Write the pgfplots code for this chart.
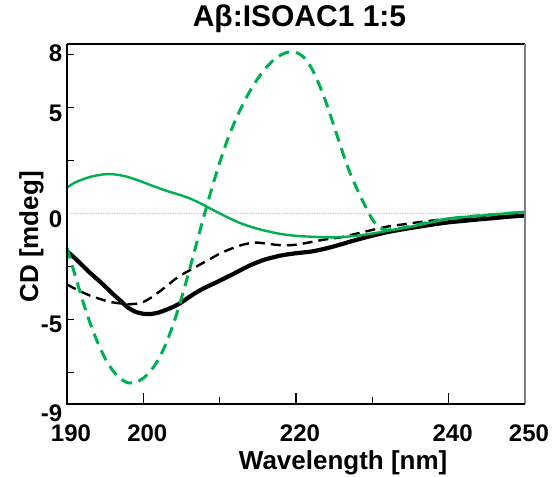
\documentclass[border=0pt]{standalone}
\usepackage{pgfplots}
\pgfplotsset{compat=1.18}
\usepackage{fontspec}
\setmainfont{Liberation Sans}
\definecolor{cdgreen}{RGB}{0,176,80}

\begin{document}
\begin{tikzpicture}
\useasboundingbox (-67pt,-72pt) rectangle (486pt,404pt);
\begin{axis}[
  at={(0,0)}, anchor=south west,
  scale only axis, width=458pt, height=360pt,
  xmin=190, xmax=250, ymin=-9, ymax=8,
  clip=false,
  axis line style={draw=none},
  tick align=inside,
  xtick pos=bottom, ytick pos=left,
  xtick={200,220,240}, xticklabels={200,220,240},
  extra x ticks={190,250}, extra x tick labels={190,250},
  extra x tick style={major tick length=0pt},
  minor xtick={210,230},
  ytick={-9,-5,0,5,7.8},
  yticklabels={\raisebox{-4pt}[\height][\depth]{-9},-5,0,5,8},
  minor ytick={-7.5,-5,-2.5,2.5,5,7.5},
  major tick length=11pt, minor tick length=7.5pt,
  major y tick style={draw=none},
  tick style={black, line width=1.2pt},
  xticklabel style={anchor=base, yshift=-37.7pt, xshift=4pt,
    font=\fontsize{24}{28}\selectfont\bfseries},
  yticklabel style={anchor=east, inner sep=0pt, xshift=-4.5pt, yshift=-5.5pt,
    font=\fontsize{24}{28}\selectfont\bfseries},
  title={Aβ:ISOAC1 1:5},
  title style={at={(axis description cs:0.5076,1.0333)}, anchor=base,
    font=\fontsize{30}{36}\selectfont\bfseries},
  xlabel={Wavelength [nm]},
  xlabel style={at={(axis description cs:0.603,-0.1833)}, anchor=base,
    font=\fontsize{26}{30}\selectfont\bfseries},
  ylabel={CD [mdeg]},
  every axis y label/.style={at={(axis description cs:-0.0633,0.464)}, rotate=90, anchor=base,
    font=\fontsize{26}{30}\selectfont\bfseries},
]
% zero reference line
\addplot[gray!45, line width=0.8pt, densely dotted] coordinates {(190,0) (250,0)};

% black solid spectrum
\addplot[black, line width=4.2pt, smooth] coordinates {
(190,-1.79) (191,-2.1) (192,-2.45) (193,-2.8) (194,-3.12) (195,-3.45)
(196,-3.8) (197,-4.12) (198,-4.45) (199,-4.65) (200,-4.74) (201,-4.75)
(202,-4.68) (203,-4.55) (204,-4.4) (205,-4.2) (206,-3.95) (207,-3.72)
(208,-3.52) (209,-3.35) (210,-3.18) (211,-3.0) (212,-2.82) (213,-2.63)
(214,-2.45) (215,-2.3) (216,-2.17) (218,-1.99) (220,-1.88) (222,-1.8)
(224,-1.65) (226,-1.45) (228,-1.24) (230,-1.05) (232,-0.88) (234,-0.75)
(236,-0.63) (238,-0.52) (240,-0.42) (242,-0.35) (244,-0.28) (246,-0.22)
(248,-0.15) (250,-0.1)};

% black dashed spectrum
\addplot[black, line width=2.4pt, dash pattern=on 10pt off 6pt, smooth] coordinates {
(190,-3.35) (191,-3.55) (192,-3.72) (193,-3.88) (194,-4.0) (195,-4.12)
(196,-4.2) (197,-4.25) (198,-4.28) (199,-4.27) (200,-4.18) (201,-3.98)
(202,-3.72) (203,-3.45) (204,-3.15) (205,-2.9) (206,-2.7) (207,-2.5)
(208,-2.3) (209,-2.1) (210,-1.9) (211,-1.74) (212,-1.6) (213,-1.48)
(214,-1.4) (215,-1.38) (216,-1.42) (218,-1.5) (220,-1.48) (222,-1.35)
(224,-1.22) (226,-1.12) (228,-0.95) (230,-0.78) (232,-0.62) (234,-0.52)
(236,-0.42) (238,-0.33) (240,-0.25) (242,-0.2) (245,-0.12) (248,-0.05)
(250,0)};

% green solid spectrum
\addplot[cdgreen, line width=2.4pt, smooth] coordinates {
(190,1.22) (191,1.45) (192,1.6) (193,1.72) (194,1.8) (195,1.85) (196,1.85)
(197,1.8) (198,1.72) (199,1.6) (200,1.47) (201,1.33) (202,1.2) (203,1.07)
(204,0.96) (205,0.85) (206,0.72) (207,0.56) (208,0.38) (209,0.19) (210,0.0)
(211,-0.18) (212,-0.35) (213,-0.5) (214,-0.62) (215,-0.73) (216,-0.82)
(217,-0.9) (218,-0.97) (220,-1.06) (222,-1.1) (224,-1.13) (226,-1.12)
(228,-1.05) (230,-0.95) (232,-0.82) (234,-0.7) (236,-0.56) (238,-0.4)
(240,-0.26) (242,-0.17) (245,-0.08) (248,0.02) (250,0.07)};

% green dashed spectrum
\addplot[cdgreen, line width=3pt, dash pattern=on 11pt off 7pt, smooth] coordinates {
(190,-1.63) (191,-2.85) (192,-4.06) (193,-5.15) (194,-6.08) (195,-6.85)
(196,-7.42) (197,-7.8) (198,-8.0) (199,-7.98) (200,-7.78) (201,-7.42)
(202,-6.88) (203,-6.12) (204,-5.15) (205,-4.0) (206,-2.72) (207,-1.38)
(208,-0.05) (209,1.22) (210,2.4) (211,3.45) (212,4.35) (213,5.12)
(214,5.8) (215,6.37) (216,6.85) (217,7.22) (218,7.48) (219,7.62)
(220,7.6) (221,7.38) (222,6.88) (223,6.12) (224,5.18) (225,4.1)
(226,3.0) (227,1.98) (228,1.15) (229,0.4) (230,-0.28) (231,-0.68)
(232,-0.78) (234,-0.68) (236,-0.52) (238,-0.37) (240,-0.25) (242,-0.17)
(245,-0.08) (248,0.01) (250,0.05)};

% frame: black left/bottom/top, grey right
\draw[black, line width=1.5pt] (rel axis cs:0,1) -- (rel axis cs:1,1);
\draw[gray, line width=2pt] (rel axis cs:1,1) -- (rel axis cs:1,0);
\draw[black, line width=2pt] (rel axis cs:0,1) -- (rel axis cs:0,0) -- (rel axis cs:1,0);
\end{axis}
\end{tikzpicture}
\end{document}
